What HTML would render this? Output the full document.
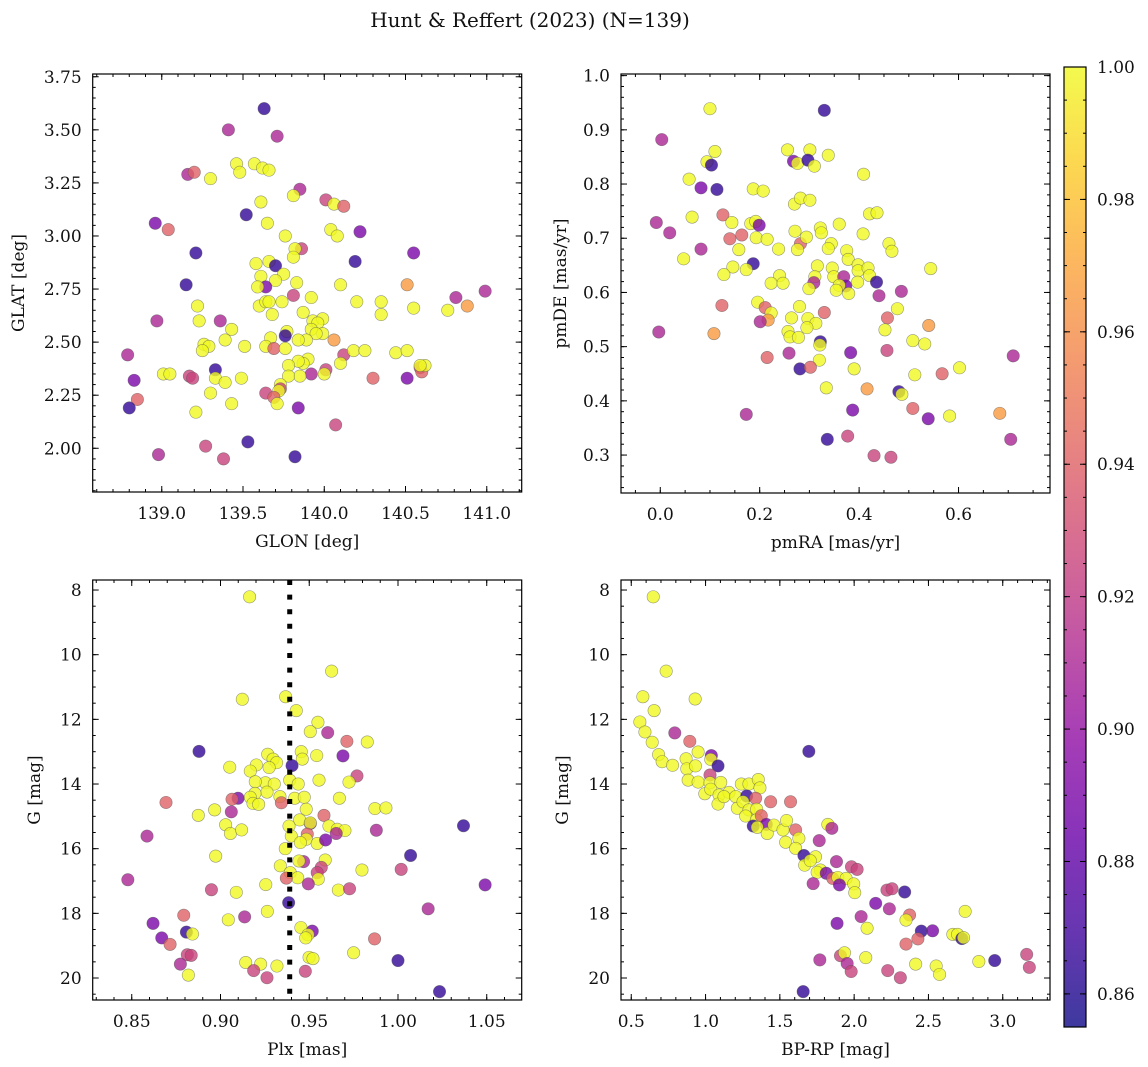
<!DOCTYPE html>
<html><head><meta charset="utf-8"><title>Hunt & Reffert (2023)</title>
<style>
html,body{margin:0;padding:0;background:#fff;}
svg{display:block;font-family:"DejaVu Serif","Liberation Serif",serif;}
</style></head>
<body>
<svg id="fig" width="1148" height="1067" viewBox="0 0 1148 1067" xmlns="http://www.w3.org/2000/svg">
<text x="530" y="27" font-size="20" text-anchor="middle" fill="#111">Hunt &amp; Reffert (2023) (N=139)</text>
</svg>
<script>
// ---------- DATA ----------
const p1Glon=[139.63,139.41,139.71,139.16,139.20,139.30,139.46,139.48,139.57,139.62,139.66,139.85,139.81,140.01,140.06,140.12,139.61,138.96,139.04,139.52,139.65,140.04,140.08,140.22,139.76,139.21,139.86,139.82,139.81,140.55,140.19,139.58,139.66,139.70,139.15,139.61,139.75,139.70,139.64,139.59,139.83,140.10,140.51,140.99,140.81,140.88,139.81,139.92,139.22,139.60,139.64,139.66,139.74,139.68,139.87,140.20,140.35,140.35,140.55,140.76,138.97,139.23,139.36,139.43,139.39,139.93,139.99,139.96,139.92,139.99,139.95,139.89,139.84,139.77,139.76,139.67,140.06,139.26,139.29,139.25,139.51,139.64,139.69,139.76,140.12,140.18,140.25,140.44,140.51,138.79,139.90,139.87,139.84,139.78,140.10,140.59,140.60,140.62,140.59,139.01,139.05,139.17,139.19,139.33,139.33,139.39,139.49,138.83,139.92,140.01,140.00,139.85,139.78,140.30,140.51,139.73,139.73,139.72,138.85,139.30,139.64,139.69,139.71,139.43,138.80,139.84,139.21,140.07,139.53,139.27,138.98,139.38,139.82];
const p1Glat=[3.60,3.50,3.47,3.29,3.30,3.27,3.34,3.30,3.34,3.32,3.31,3.22,3.19,3.17,3.15,3.14,3.16,3.06,3.03,3.10,3.06,3.03,3.00,3.02,3.00,2.92,2.94,2.94,2.90,2.92,2.88,2.87,2.88,2.86,2.77,2.81,2.82,2.79,2.76,2.76,2.78,2.77,2.77,2.74,2.71,2.67,2.72,2.71,2.67,2.67,2.69,2.69,2.69,2.63,2.64,2.69,2.69,2.63,2.66,2.65,2.60,2.60,2.60,2.56,2.51,2.60,2.61,2.59,2.56,2.54,2.54,2.51,2.51,2.55,2.53,2.52,2.51,2.49,2.48,2.46,2.48,2.48,2.47,2.47,2.44,2.46,2.46,2.45,2.46,2.44,2.42,2.40,2.41,2.39,2.40,2.38,2.36,2.39,2.39,2.35,2.35,2.34,2.33,2.37,2.33,2.31,2.33,2.32,2.35,2.37,2.35,2.34,2.34,2.33,2.33,2.30,2.28,2.27,2.23,2.26,2.26,2.24,2.21,2.21,2.19,2.19,2.17,2.11,2.03,2.01,1.97,1.95,1.96];
const p1Prob=[.865,.91,.91,.91,.94,1,1,1,1,1,1,.91,1,.925,1,.94,1,.89,.94,.865,1,1,1,.89,1,.865,.925,1,1,.89,.865,1,1,.865,.865,1,1,1,.89,1,1,1,.965,.91,.91,.965,.925,1,1,1,1,1,1,1,1,1,1,1,1,1,.91,1,.91,1,1,1,1,1,1,1,1,1,1,1,.865,1,.965,1,1,1,1,1,.94,1,.925,1,1,1,1,.91,1,1,1,1,1,.925,.94,1,1,1,1,.925,.925,.865,1,1,1,.89,.91,.925,1,1,1,.94,.89,1,.925,1,.94,1,.925,.94,1,1,.865,.89,1,.925,.865,.925,.91,.925,.865];

const p2Pmra=[.100,.330,.003,.110,.094,.103,.256,.268,.276,.301,.297,.310,.338,.409,.058,.082,.114,.187,.207,.270,.282,.301,.421,.436,-.008,.019,.064,.126,.144,.164,.140,.182,.192,.199,.193,.215,.158,.082,.047,.238,.271,.282,.294,.276,.322,.324,.360,.408,.344,.338,.375,.378,.460,.466,.544,.187,.173,.146,.128,.240,.223,.247,.316,.311,.309,.299,.346,.349,.369,.373,.360,.354,.379,.398,.398,.418,.421,.397,.435,.440,.485,.124,.196,.211,.223,.217,.201,.280,.264,.297,.313,.295,.257,.261,.278,.330,.322,.321,.477,.457,.452,.540,.508,.532,.108,-.003,.259,.215,.320,.281,.302,.383,.456,.710,.390,.512,.567,.602,.334,.416,.480,.486,.173,.387,.508,.539,.582,.683,.336,.377,.705,.430,.464];
const p2Pmde=[.939,.936,.882,.860,.841,.835,.863,.842,.838,.863,.844,.833,.853,.818,.809,.793,.790,.791,.787,.763,.774,.770,.745,.747,.729,.710,.739,.743,.729,.706,.699,.727,.731,.724,.701,.698,.679,.680,.662,.680,.713,.690,.702,.679,.719,.710,.726,.708,.690,.681,.677,.661,.690,.676,.644,.653,.642,.647,.633,.631,.617,.617,.649,.629,.618,.607,.645,.629,.629,.612,.613,.604,.598,.651,.640,.645,.631,.619,.619,.594,.602,.576,.582,.572,.562,.549,.546,.574,.553,.552,.543,.535,.528,.518,.517,.563,.509,.503,.570,.553,.531,.539,.511,.505,.524,.527,.488,.480,.475,.459,.462,.489,.493,.483,.459,.448,.450,.461,.424,.422,.417,.412,.375,.383,.386,.367,.372,.377,.329,.335,.329,.299,.296];
const p2Prob=[1,.865,.91,1,1,.865,1,.89,1,1,.865,1,1,1,1,.89,.865,1,1,1,1,1,1,1,.91,.91,1,.94,1,.94,.94,1,1,.89,1,1,1,.91,1,1,1,.94,1,1,1,1,1,1,1,1,1,1,1,1,1,.865,1,1,1,1,1,1,1,1,.91,1,1,1,.91,.89,1,1,1,1,1,1,1,1,.865,.91,.91,.94,1,.94,1,.965,.91,1,1,1,1,1,1,1,1,.94,.865,1,1,.94,1,.965,1,1,.965,.91,.91,.94,1,.865,.94,.89,.925,.91,1,1,.94,1,1,.965,.865,1,.91,.89,.94,.89,1,.965,.865,.925,.91,.925,.925];

const p3Plx=[.9164,.9626,.9123,.9367,.9427,.9549,.9506,.9604,.9712,.9827,.8879,.9690,.9455,.9461,.9542,.9266,.9296,.9316,.9274,.9202,.9168,.9052,.9403,.9769,.9724,.9555,.9390,.9438,.9253,.9196,.9303,.9262,.9194,.9168,.9183,.9215,.9099,.9065,.9335,.9343,.9418,.9472,.8693,.9061,.8967,.8875,.9483,.9670,.9870,.9932,.9583,.9446,.9506,.9506,.9386,.9611,.9658,.9701,.9652,.9878,1.0369,.9029,.9056,.9119,.8586,.9489,.9399,.9483,.9450,.9545,.9592,.9365,1.0071,.8973,.9468,.9442,.9590,.9568,.9545,.9337,.9393,.9435,.9551,.9797,1.0018,.8478,.9371,.9495,.9255,.9664,.9727,1.0491,.8949,.9089,.9384,.9264,1.0170,.8793,.9136,.9044,.8620,.9453,.9517,.9493,.9480,.8808,.8842,.8669,.8716,.9868,.9750,1.0000,.8813,.8835,.8774,.9142,.9226,.9187,.9262,.9318,.9478,.9499,.9521,.8819,1.0234];
const p3G=[8.21,10.51,11.38,11.30,11.73,12.09,12.38,12.41,12.68,12.70,12.99,13.13,13.00,13.23,13.12,13.08,13.23,13.34,13.49,13.41,13.60,13.48,13.43,13.75,13.94,13.88,13.88,14.00,13.96,13.93,14.00,14.25,14.29,14.41,14.60,14.63,14.44,14.47,14.39,14.58,14.44,14.41,14.57,14.86,14.80,14.97,14.78,14.44,14.76,14.74,14.97,15.11,15.22,15.20,15.30,15.30,15.40,15.44,15.53,15.43,15.29,15.26,15.53,15.42,15.61,15.55,15.61,15.71,15.81,15.84,15.73,16.00,16.21,16.23,16.40,16.38,16.35,16.58,16.74,16.53,16.74,16.90,16.94,16.66,16.64,16.96,16.91,17.09,17.11,17.28,17.24,17.12,17.27,17.35,17.67,17.94,17.86,18.06,18.11,18.20,18.31,18.44,18.55,18.66,18.76,18.58,18.64,18.76,18.96,18.79,19.22,19.46,19.28,19.30,19.57,19.52,19.57,19.77,19.99,19.63,19.79,19.36,19.40,19.91,20.42];
const p3Prob=[1,1,1,1,1,1,1,.91,.94,1,.865,.89,1,1,1,1,1,1,1,1,1,1,.865,.925,1,1,1,1,1,1,1,1,1,1,1,1,.89,.94,1,.94,1,1,.94,.91,1,1,1,1,1,1,.94,1,.89,1,1,1,1,1,.91,.91,.865,1,1,1,.91,.94,1,1,1,1,.89,1,.865,1,.91,1,1,.925,.925,1,1,1,1,1,.925,.91,.94,.91,1,1,.925,.89,.925,1,.865,1,.91,.94,.91,1,.89,1,.89,1,1,.865,1,.89,.94,.94,1,.865,.925,.925,.91,1,1,.925,.925,1,.925,1,1,1,.865];

const p4Bprp=[.648,.735,.578,.654,.930,.558,.592,.641,.793,.894,.684,.708,.778,.950,1.039,1.035,1.084,.869,.874,.932,.883,.950,1.030,1.030,1.102,.995,1.035,1.091,1.084,1.158,1.124,1.203,1.241,1.292,1.355,1.366,1.277,1.337,1.214,1.252,1.292,1.344,1.270,1.342,1.375,1.321,1.409,1.348,1.415,1.460,1.438,1.572,1.521,1.545,1.606,1.628,1.539,1.606,1.823,1.850,1.765,1.662,1.740,1.667,1.705,1.773,1.751,1.812,1.881,1.982,2.020,1.856,1.890,1.946,1.901,1.997,2.004,1.724,1.695,2.221,2.255,2.340,2.145,2.237,2.047,1.885,2.087,2.373,2.349,2.452,2.528,2.429,2.349,2.747,2.664,2.696,2.725,2.736,1.769,1.908,1.935,1.953,1.980,2.078,2.226,2.311,2.414,2.552,2.575,2.839,2.946,3.161,3.179,1.657];
const p4G=[8.21,10.51,11.30,11.73,11.37,12.08,12.39,12.71,12.42,12.68,13.09,13.31,13.42,13.01,13.12,13.24,13.44,13.22,13.53,13.44,13.88,13.94,13.72,13.96,13.95,14.30,14.16,14.34,14.62,14.26,14.39,14.39,14.00,14.00,13.86,14.12,14.37,14.44,14.75,14.55,14.80,14.78,14.99,15.11,14.98,15.30,15.25,15.34,15.53,15.27,14.55,14.55,15.42,15.13,15.42,15.68,15.80,15.99,15.25,15.37,15.75,16.21,16.25,16.51,16.37,16.66,16.73,16.76,16.40,16.56,16.64,16.92,16.89,16.92,17.12,17.09,17.36,17.08,12.99,17.28,17.24,17.34,17.69,17.86,18.10,18.31,18.46,18.05,18.21,18.55,18.54,18.79,18.95,17.94,18.65,18.65,18.78,18.75,19.44,19.31,19.22,19.55,19.80,19.37,19.77,19.99,19.57,19.63,19.89,19.49,19.46,19.27,19.67,20.42];
const p4Prob=[1,1,1,1,1,1,1,1,.91,.94,1,1,1,1,.89,1,.865,1,1,1,1,1,.925,1,1,1,1,1,1,1,1,1,1,1,1,1,.865,.94,1,1,1,1,1,1,.94,.865,.89,1,1,1,.94,.94,1,1,.94,1,1,1,1,.91,.91,.865,1,1,1,1,1,.89,.91,.925,.925,.94,1,1,.89,1,1,.91,.865,.925,.925,.865,.89,.91,.91,.89,1,.94,1,.865,.89,.94,.94,1,1,1,.865,1,.91,.925,1,.91,.925,1,.925,.925,1,1,1,1,.865,.925,.925,.865];

const meanPlx=[0.939];
const cbTicks=[0.86,0.88,0.90,0.92,0.94,0.96,0.98,1.00];
const p1XTicks=[139.0,139.5,140.0,140.5,141.0];
const p1YTicks=[2.00,2.25,2.50,2.75,3.00,3.25,3.50,3.75];
const p2XTicks=[0.0,0.2,0.4,0.6];
const p2YTicks=[0.3,0.4,0.5,0.6,0.7,0.8,0.9,1.0];
const p3XTicks=[0.85,0.90,0.95,1.00,1.05];
const p4XTicks=[0.5,1.0,1.5,2.0,2.5,3.0];
const gYTicks=[8,10,12,14,16,18,20];

// ---------- RENDER ----------
const NS="http://www.w3.org/2000/svg";
const svg=document.getElementById('fig');
function el(tag,attrs,parent){const e=document.createElementNS(NS,tag);for(const k in attrs)e.setAttribute(k,attrs[k]);(parent||svg).appendChild(e);return e;}
const VMIN=0.855,VMAX=1.0;
const plasma=[[13,8,135],[65,4,157],[106,0,168],[143,13,164],[177,42,144],[204,71,120],[225,100,98],[242,132,75],[252,166,54],[252,206,37],[240,249,33]];
function cmap(v){let t=(v-VMIN)/(VMAX-VMIN);t=Math.max(0,Math.min(1,t));const f=t*10,i=Math.min(9,Math.floor(f)),r=f-i;const a=plasma[i],b=plasma[i+1];return 'rgb('+a.map((c,k)=>Math.round(c+(b[k]-c)*r)).join(',')+')';}

function panel(cfg){
  const g=el('g',{});
  
  
  const {L,R,T,B}=cfg;
  const sx=v=>L+(v-cfg.x0)/(cfg.x1-cfg.x0)*(R-L);
  const sy=v=>B-(v-cfg.y0)/(cfg.y1-cfg.y0)*(B-T);
  const cg=el('g',{},g);
  
  
  for(let i=0;i<cfg.xs.length;i++){
    const c=el('circle',{cx:sx(cfg.xs[i]),cy:sy(cfg.ys[i]),r:6.2,fill:cmap(cfg.cs[i]),'fill-opacity':0.8,stroke:'#555','stroke-opacity':0.6,'stroke-width':0.6},cg);
    
    
  }
  if(cfg.vline){
    const ln=el('line',{x1:sx(cfg.vline),x2:sx(cfg.vline),y1:T,y2:B,stroke:'#000','stroke-width':5,'stroke-dasharray':'5 9.6'},g);
    
    
  }
  const frame=el('rect',{x:L,y:T,width:R-L,height:B-T,fill:'none',stroke:'#000','stroke-width':1.2},g);
  
  
  const tk=el('g',{stroke:'#000','stroke-width':1},g);
  
  
  const lo=Math.min(cfg.x0,cfg.x1),hi=Math.max(cfg.x0,cfg.x1);
  for(let v=Math.ceil(lo/cfg.xm-1e-6)*cfg.xm;v<=hi+1e-9;v+=cfg.xm){const x=sx(v);el('line',{x1:x,x2:x,y1:B,y2:B-3},tk);el('line',{x1:x,x2:x,y1:T,y2:T+3},tk);}
  const ylo=Math.min(cfg.y0,cfg.y1),yhi=Math.max(cfg.y0,cfg.y1);
  for(let v=Math.ceil(ylo/cfg.ym-1e-6)*cfg.ym;v<=yhi+1e-9;v+=cfg.ym){const y=sy(v);el('line',{x1:L,x2:L+3,y1:y,y2:y},tk);el('line',{x1:R,x2:R-3,y1:y,y2:y},tk);}
  cfg.xt.forEach(v=>{const x=sx(v);el('line',{x1:x,x2:x,y1:B,y2:B-6},tk);el('line',{x1:x,x2:x,y1:T,y2:T+6},tk);
    const t=el('text',{x:x,y:B+27,'font-size':17,'text-anchor':'middle',fill:'#111'},g);t.textContent=v.toFixed(cfg.xd);
    
    });
  cfg.yt.forEach(v=>{const y=sy(v);el('line',{x1:L,x2:L+6,y1:y,y2:y},tk);el('line',{x1:R,x2:R-6,y1:y,y2:y},tk);
    const t=el('text',{x:L-11,y:y+6,'font-size':17,'text-anchor':'end',fill:'#111'},g);t.textContent=v.toFixed(cfg.yd);
    
    });
  const xl=el('text',{x:(L+R)/2,y:B+55,'font-size':17,'text-anchor':'middle',fill:'#111'},g);xl.textContent=cfg.xlab;
  
  
  const yx=cfg.ylx,yy=(T+B)/2;
  const yl=el('text',{x:yx,y:yy,'font-size':17,'text-anchor':'middle',fill:'#111',transform:'rotate(-90 '+yx+' '+yy+')'},g);yl.textContent=cfg.ylab;
  
  
}

panel({name:'glon-glat-panel',L:92.7,R:521.7,T:74,B:492,x0:138.575,x1:141.215,y0:1.794,y1:3.763,xs:p1Glon,ys:p1Glat,cs:p1Prob,xt:p1XTicks,yt:p1YTicks,xd:1,yd:2,xm:0.1,ym:0.05,xlab:'GLON [deg]',ylab:'GLAT [deg]',ylx:24});
panel({name:'proper-motion-panel',L:621,R:1050,T:74,B:493,x0:-0.079,x1:0.784,y0:0.230,y1:1.003,xs:p2Pmra,ys:p2Pmde,cs:p2Prob,xt:p2XTicks,yt:p2YTicks,xd:1,yd:1,xm:0.05,ym:0.02,xlab:'pmRA [mas/yr]',ylab:'pmDE [mas/yr]',ylx:566});
panel({name:'parallax-magnitude-panel',L:92.7,R:521.7,T:580,B:1000,x0:0.828,x1:1.0697,y0:20.68,y1:7.69,xs:p3Plx,ys:p3G,cs:p3Prob,xt:p3XTicks,yt:gYTicks,xd:2,yd:0,xm:0.01,ym:0.5,xlab:'Plx [mas]',ylab:'G [mag]',ylx:40,vline:meanPlx[0]});
panel({name:'color-magnitude-panel',L:621,R:1050,T:580,B:1000,x0:0.431,x1:3.318,y0:20.68,y1:7.69,xs:p4Bprp,ys:p4G,cs:p4Prob,xt:p4XTicks,yt:gYTicks,xd:1,yd:0,xm:0.1,ym:0.5,xlab:'BP-RP [mag]',ylab:'G [mag]',ylx:568});

// colorbar
const defs=el('defs',{});
const grad=el('linearGradient',{id:'cbg',x1:0,y1:1,x2:0,y2:0},defs);
plasma.forEach((c,i)=>el('stop',{offset:(i/10),'stop-color':'rgb('+c.join(',')+')','stop-opacity':0.8},grad));
const CBL=1064,CBR=1086,CBT=67,CBB=1027;
const cbs=v=>CBB-(v-VMIN)/(VMAX-VMIN)*(CBB-CBT);
const cbg=el('g',{});


el('rect',{x:CBL,y:CBT,width:CBR-CBL,height:CBB-CBT,fill:'url(#cbg)',stroke:'#000','stroke-width':1.2},cbg);
for(let v=0.86;v<=1.0001;v+=0.005){const y=cbs(v);el('line',{x1:CBR,x2:CBR-3,y1:y,y2:y,stroke:'#000'},cbg);el('line',{x1:CBL,x2:CBL+3,y1:y,y2:y,stroke:'#000'},cbg);}
cbTicks.forEach(v=>{const y=cbs(v);el('line',{x1:CBR,x2:CBR-6,y1:y,y2:y,stroke:'#000'},cbg);el('line',{x1:CBL,x2:CBL+6,y1:y,y2:y,stroke:'#000'},cbg);
  const t=el('text',{x:CBR+11,y:y+6,'font-size':17,fill:'#111'},cbg);t.textContent=v.toFixed(2);
  
  });
</script>
</body></html>
